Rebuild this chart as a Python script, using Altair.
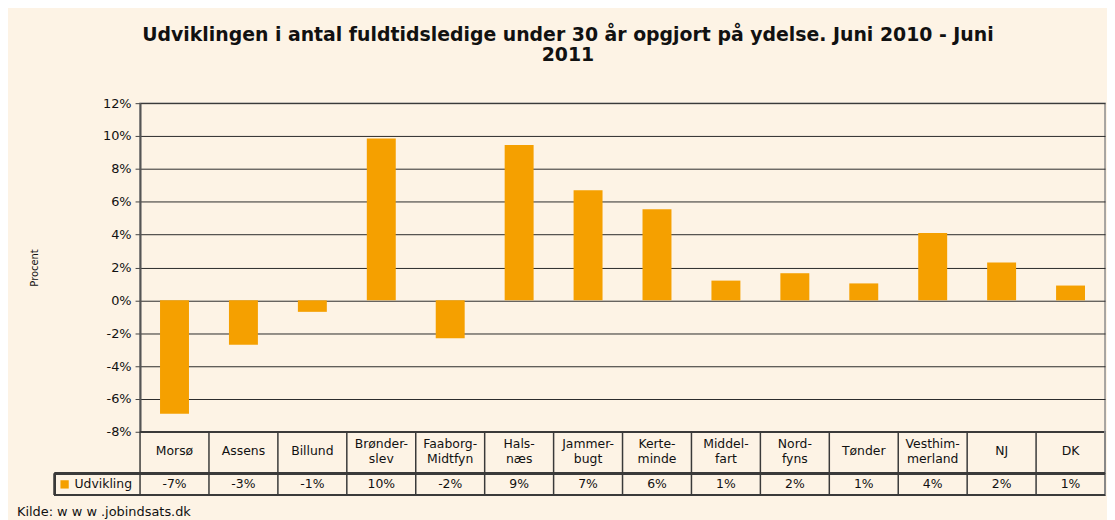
import altair as alt
import pandas as pd

categories = ["Morsø", "Assens", "Billund", "Brønderslev", "Faaborg-Midtfyn", "Halsnæs",
              "Jammerbugt", "Kerteminde", "Middelfart", "Nordfyns", "Tønder",
              "Vesthimmerland", "NJ", "DK"]
label_line1 = ["Morsø", "Assens", "Billund", "Brønder-", "Faaborg-", "Hals-",
               "Jammer-", "Kerte-", "Middel-", "Nord-", "Tønder",
               "Vesthim-", "NJ", "DK"]
label_line2 = ["", "", "", "slev", "Midtfyn", "næs",
               "bugt", "minde", "fart", "fyns", "",
               "merland", "", ""]
values = [-6.9, -2.7, -0.7, 9.85, -2.3, 9.45, 6.7, 5.55, 1.2, 1.65, 1.03, 4.1, 2.3, 0.9]
table_labels = ["-7%", "-3%", "-1%", "10%", "-2%", "9%", "7%", "6%", "1%", "2%", "1%", "4%", "2%", "1%"]
y_ticks = [-8, -6, -4, -2, 0, 2, 4, 6, 8, 10, 12]

title_lines = ["Udviklingen i antal fuldtidsledige under 30 år opgjort på ydelse. Juni 2010 - Juni", "2011"]
series_name = "Udvikling"
source_text = "Kilde: w w w .jobindsats.dk"
y_title = "Procent"

df = pd.DataFrame({"cat": categories, "l1": label_line1, "l2": label_line2,
                   "value": values, "tlabel": table_labels})

W, H = 972, 331
FONT = "DejaVu Sans"
BG = "#FDF3E5"
ORANGE = "#F5A000"
LINE = "#3a3a3a"
TXT = "#111"
FS = 12.5

xenc = alt.X("cat:N", sort=categories, axis=None,
             scale=alt.Scale(paddingInner=0, paddingOuter=0))
xmid = alt.X("cat:N", sort=categories, bandPosition=0.5, axis=None)

bars = alt.Chart(df).mark_bar(color=ORANGE, width=alt.RelativeBandSize(0.42)).encode(
    x=xenc,
    y=alt.Y("value:Q",
            scale=alt.Scale(domain=[-8, 12], nice=False, zero=False),
            axis=alt.Axis(values=y_ticks, title=None, labelExpr="datum.value + '%'",
                          labelFont=FONT, labelFontSize=13, labelColor=TXT,
                          labelPadding=4, tickSize=5, tickColor="#444", tickWidth=1,
                          domainColor="#555", domainWidth=2,
                          grid=True, gridColor="#2a2a2a", gridWidth=1)),
)

vlines = alt.Chart(df).mark_rule(color=LINE, strokeWidth=1.5).encode(
    x=alt.X("cat:N", sort=categories, bandPosition=0, axis=None),
    y=alt.value(H), y2=alt.value(H + 64),
)
right_line = alt.Chart(df).mark_rule(color="#888", strokeWidth=1.5).encode(
    x=alt.value(W), y=alt.value(H), y2=alt.value(H + 64))
left_cell = alt.Chart(df).mark_rule(color=LINE, strokeWidth=1.5).encode(
    x=alt.value(-86), y=alt.value(H + 42), y2=alt.value(H + 64))
hline1 = alt.Chart(df).mark_rule(color=LINE, strokeWidth=1.5).encode(
    x=alt.value(-86), x2=alt.value(W), y=alt.value(H + 42))
hline2 = alt.Chart(df).mark_rule(color=LINE, strokeWidth=1.5).encode(
    x=alt.value(-86), x2=alt.value(W), y=alt.value(H + 64))
hline0 = alt.Chart(df).mark_rule(color=LINE, strokeWidth=1.5).encode(
    x=alt.value(0), x2=alt.value(W), y=alt.value(H))

txt = dict(font=FONT, fontSize=FS, color=TXT, baseline="middle")
single_text = alt.Chart(df).transform_filter("datum.l2 == ''").mark_text(**txt).encode(
    x=xmid, y=alt.value(H + 19), text="l1:N")
top_text = alt.Chart(df).transform_filter("datum.l2 != ''").mark_text(**txt).encode(
    x=xmid, y=alt.value(H + 12), text="l1:N")
bot_text = alt.Chart(df).transform_filter("datum.l2 != ''").mark_text(**txt).encode(
    x=xmid, y=alt.value(H + 27), text="l2:N")
val_text = alt.Chart(df).mark_text(**txt).encode(
    x=xmid, y=alt.value(H + 53), text="tlabel:N")

legend_df = pd.DataFrame({"name": [series_name]})
legend_sq = alt.Chart(legend_df).mark_square(color=ORANGE, size=70, opacity=1).encode(
    x=alt.value(-76), y=alt.value(H + 53))
legend_txt = alt.Chart(legend_df).mark_text(font=FONT, fontSize=FS, color=TXT, align="left",
                                            baseline="middle").encode(
    x=alt.value(-66), y=alt.value(H + 53), text="name:N")

src_df = pd.DataFrame({"t": [source_text]})
src_txt = alt.Chart(src_df).mark_text(font=FONT, fontSize=13, color=TXT, align="left",
                                      baseline="middle").encode(
    x=alt.value(-124), y=alt.value(H + 81), text="t:N")

yt_df = pd.DataFrame({"t": [y_title]})
yt_txt = alt.Chart(yt_df).mark_text(font=FONT, fontSize=10, color=TXT, angle=270,
                                    baseline="middle", align="center").encode(
    x=alt.value(-106), y=alt.value(166), text="t:N")

chart = alt.layer(bars, hline0, vlines, right_line, left_cell, hline1, hline2,
                  single_text, top_text, bot_text, val_text,
                  legend_sq, legend_txt, src_txt, yt_txt).properties(
    width=W, height=H,
    background=BG,
    padding={"left": 133, "top": 94, "right": 2, "bottom": 87},
    autosize=alt.AutoSizeParams(type="none"),
    title=alt.TitleParams(text=title_lines, anchor="middle", dx=-55, offset=32,
                          font=FONT, fontSize=19, fontWeight="bold", color=TXT,
                          lineHeight=21),
).configure_view(stroke="#8c8c8c", strokeWidth=1.5)

chart.save("out.html", embed_options={"renderer": "svg", "actions": False})
